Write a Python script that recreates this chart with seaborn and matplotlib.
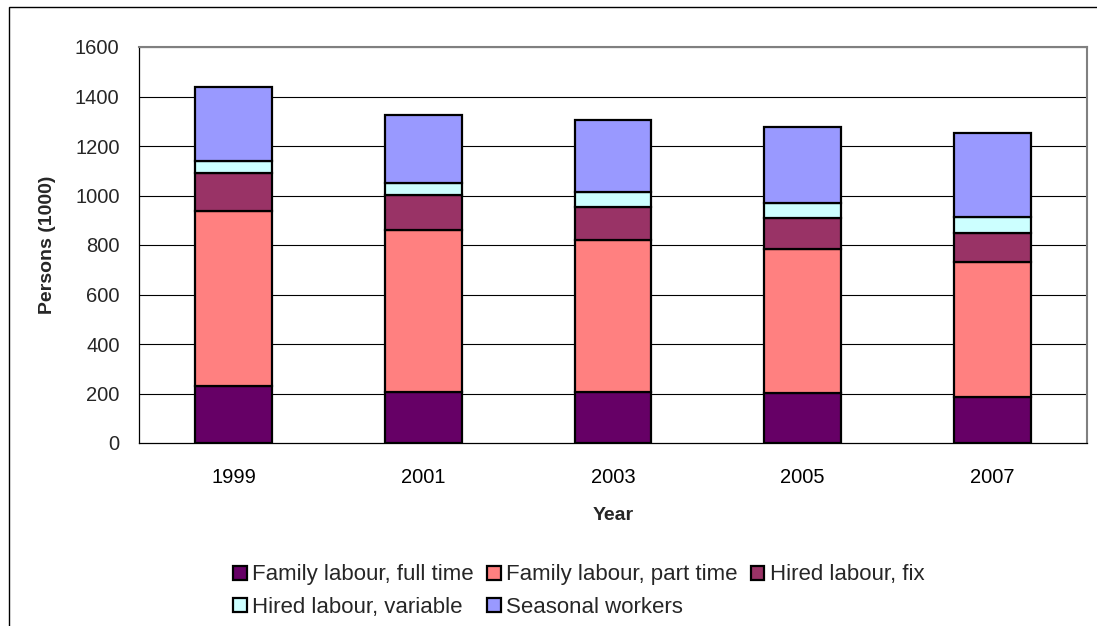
import matplotlib
matplotlib.use("Agg")
import matplotlib.pyplot as plt
from matplotlib.patches import Rectangle, Patch
import numpy as np
import seaborn as sns

years = ["1999", "2001", "2003", "2005", "2007"]
series_names = ["Family labour, full time", "Family labour, part time",
                "Hired labour, fix", "Hired labour, variable", "Seasonal workers"]
full_time = [230, 205, 206, 201, 185]
part_time = [708, 655, 615, 582, 545]
hired_fix = [154, 142, 131, 125, 117]
hired_var = [46, 47, 62, 63, 67]
seasonal = [302, 276, 291, 307, 340]
colors = ["#660066", "#FF8080", "#993366", "#CCFFFF", "#9999FF"]
yticks = [0, 200, 400, 600, 800, 1000, 1200, 1400, 1600]

sns.set_style("white")
plt.rcParams['font.family'] = ['Liberation Sans', 'DejaVu Sans']

fig = plt.figure(figsize=(10.97, 6.26), dpi=100)
ax = fig.add_axes([139/1097, (626-443)/626, (1087-139)/1097, (443-47)/626])

ax.set_axisbelow(True)
for yv in yticks[1:]:
    ax.axhline(yv, color="#000000", lw=0.8, zorder=0)

bottom = np.zeros(len(years))
all_series = [full_time, part_time, hired_fix, hired_var, seasonal]
for name, vals, c in zip(series_names, all_series, colors):
    sns.barplot(x=years, y=vals, bottom=bottom, color=c, width=0.405,
                edgecolor="black", linewidth=1.6, saturation=1, ax=ax, zorder=2)
    bottom = bottom + np.array(vals)

FS = 14.5
ax.set_ylim(0, 1600)
ax.set_yticks(yticks)
ax.set_xlim(-0.5, len(years) - 0.5)
ax.set_xticks(range(len(years)))
ax.set_xticklabels(years)
ax.set_xticks(np.arange(-0.5, len(years), 1.0), minor=True)
ax.tick_params(axis="x", which="major", length=0, pad=18, labelsize=FS, colors="black")
ax.tick_params(axis="x", which="minor", length=6, width=0.8, color="black", direction="out")
ax.tick_params(axis="y", which="major", length=6, width=0.8, color="black",
               direction="out", pad=8, labelsize=FS)
ax.grid(False)

for s in ["top", "right"]:
    ax.spines[s].set_color("#808080")
    ax.spines[s].set_linewidth(1.5)
for s in ["left", "bottom"]:
    ax.spines[s].set_color("black")
    ax.spines[s].set_linewidth(0.9)

ax.set_xlabel("Year", fontsize=14, fontweight="bold")
ax.set_ylabel("Persons (1000)", fontsize=14, fontweight="bold")
ax.xaxis.set_label_coords(0.5, (443 - 516) / 396)
ax.xaxis.label.set_verticalalignment("center")
ax.yaxis.set_label_coords((48 - 139) / 948, 0.5)
ax.yaxis.label.set_verticalalignment("center")

handles = [Patch(facecolor=c, edgecolor="black", linewidth=1.6) for c in colors]
order = [0, 3, 1, 4, 2]
leg = fig.legend([handles[i] for i in order], [series_names[i] for i in order],
                 ncol=3, loc="center", bbox_to_anchor=(579/1097, 1 - 591/626),
                 frameon=False, fontsize=16, handlelength=0.6, handleheight=0.6,
                 handletextpad=0.25, columnspacing=0.6, labelspacing=0.5,
                 borderaxespad=0)

fig.patches.append(Rectangle((9/1097, -0.1), 1.2, (626-7)/626 + 0.1,
                             transform=fig.transFigure, fill=False,
                             edgecolor="black", linewidth=1.0))

fig.savefig("out.png", dpi=100)
